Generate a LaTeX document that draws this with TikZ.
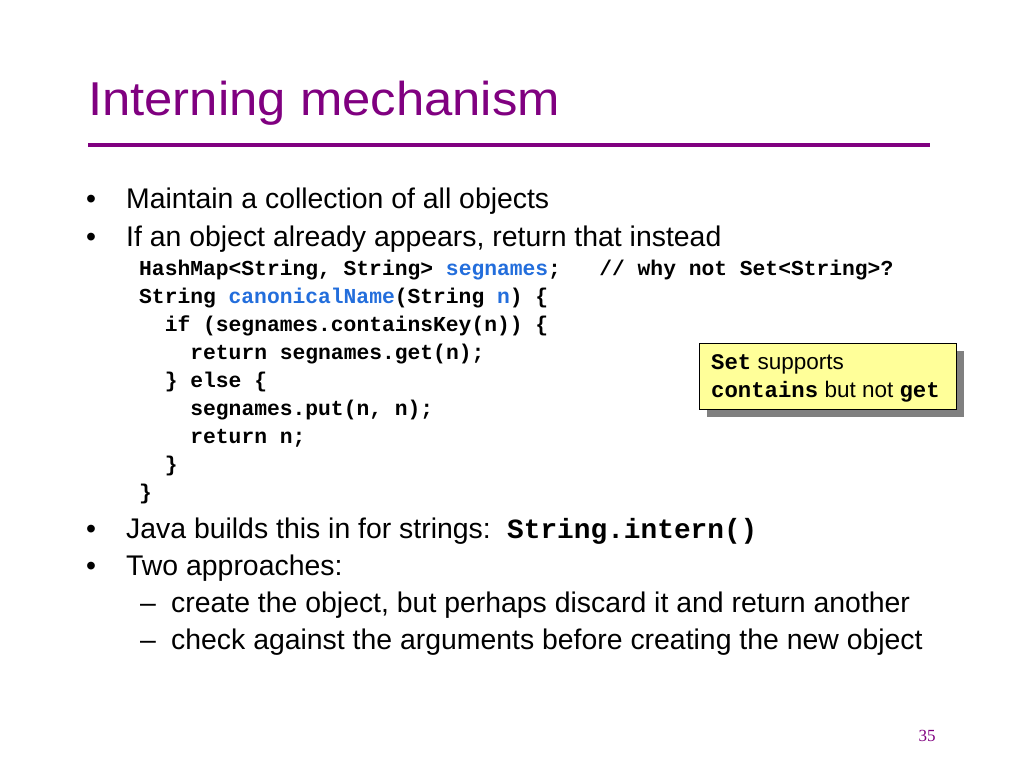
\documentclass[tikz,border=0pt]{standalone}
\usepackage{fontspec}
\setmainfont{Liberation Sans}
\newfontfamily\codefont{Liberation Mono}
\newfontfamily\pagefont{Liberation Serif}
\definecolor{titlepurple}{RGB}{128,0,128}
\definecolor{codeblue}{RGB}{35,110,220}
\definecolor{noteyellow}{RGB}{255,255,153}
\definecolor{shadowgray}{RGB}{128,128,128}
\tikzset{
  body/.style={anchor=base west, inner sep=0pt, font=\fontsize{28.4}{32}\selectfont},
  code/.style={anchor=base west, inner sep=0pt, font=\codefont\bfseries\fontsize{21.3}{26}\selectfont},
  bulletmark/.style={anchor=base, inner sep=0pt, font=\fontsize{28.4}{32}\selectfont},
}
\newcommand{\kw}[1]{\textcolor{codeblue}{#1}}
\newcommand{\nc}[1]{{\codefont\bfseries\fontsize{22.3}{24}\selectfont #1}}
\begin{document}
\begin{tikzpicture}[x=1pt,y=-1pt]
\useasboundingbox (0,0) rectangle (1024,768);
\fill[white] (0,0) rectangle (1024,768);
% title
\node[anchor=base west, inner sep=0pt, text=titlepurple, font=\fontsize{47.5}{56}\selectfont, xscale=1.07] (title) at (88,115) {Interning mechanism};
\draw[titlepurple, line width=4pt] (88,145) -- (930,145);
% bullets
\node[bulletmark] (b1) at (91,208) {•};
\node[body] (t1) at (126,208) {Maintain a collection of all objects};
\node[bulletmark] (b2) at (91,246) {•};
\node[body] (t2) at (126,246) {If an object already appears, return that instead};
% code
\node[code] (c1) at (139,275) {HashMap<String, String> \kw{segnames};\ \ \ // why not Set<String>?};
\node[code] (c2) at (139,303) {String \kw{canonicalName}(String \kw{n}) \{};
\node[code] (c3) at (164.6,331) {if (segnames.containsKey(n)) \{};
\node[code] (c4) at (190.2,359) {return segnames.get(n);};
\node[code] (c5) at (164.6,387) {\} else \{};
\node[code] (c6) at (190.2,415) {segnames.put(n, n);};
\node[code] (c7) at (190.2,443) {return n;};
\node[code] (c8) at (164.6,471) {\}};
\node[code] (c9) at (139,499) {\}};
% more bullets
\node[bulletmark] (b3) at (91,538) {•};
\node[body] (t3) at (126,538) {Java builds this in for strings:};
\node[anchor=base west, inner sep=0pt, font=\codefont\bfseries\fontsize{27.8}{32}\selectfont] (t3c) at (507,538) {String.intern()};
\node[bulletmark] (b4) at (91,575) {•};
\node[body] (t4) at (126,575) {Two approaches:};
\node[bulletmark] (d1) at (148,612) {–};
\node[body] (s1) at (171,612) {create the object, but perhaps discard it and return another};
\node[bulletmark] (d2) at (148,649) {–};
\node[body] (s2) at (171,649) {check against the arguments before creating the new object};
% callout
\fill[shadowgray] (707,351) rectangle (964,417);
\filldraw[fill=noteyellow, draw=black, line width=0.8pt] (699,343) rectangle (956,409);
\node[anchor=base west, inner sep=0pt, font=\fontsize{22.5}{24}\selectfont] (n1) at (711,369) {\nc{Set} supports};
\node[anchor=base west, inner sep=0pt, font=\fontsize{22.5}{24}\selectfont] (n2) at (711,397) {\nc{contains} but not \nc{get}};
% page number
\node[anchor=base, inner sep=0pt, text=titlepurple, font=\pagefont\fontsize{17}{20}\selectfont] (pg) at (927,741) {35};
\end{tikzpicture}
\end{document}
